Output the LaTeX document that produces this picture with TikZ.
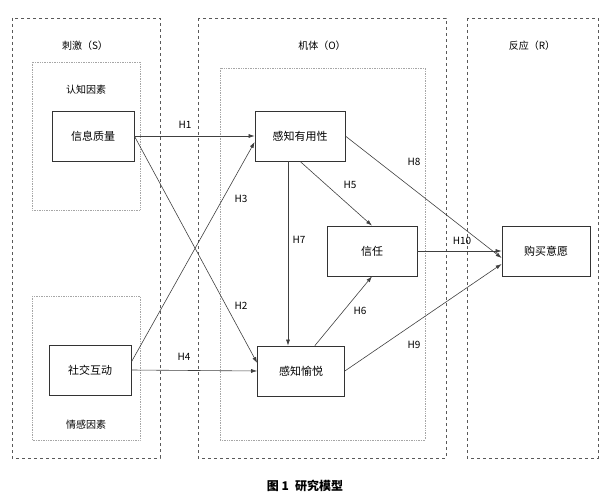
\documentclass[tikz,border=0pt]{standalone}
\usepackage{fontspec}
\setmainfont{Noto Sans CJK SC}
\usetikzlibrary{arrows.meta}
\begin{document}
\begin{tikzpicture}[x=1pt,y=-1pt,
  outer/.style={draw=gray!70!black,dashed,line width=0.8pt},
  inner/.style={draw=gray!70,densely dotted,line width=0.7pt},
  box/.style={draw=black!80,line width=0.7pt,fill=white,minimum width=82pt,minimum height=50pt,font=\fontsize{11}{12}\selectfont},
  lab/.style={font=\fontsize{10}{11}\selectfont},
  arr/.style={-{Latex[length=6pt,width=4pt]},draw=black!75,line width=0.6pt}]
\useasboundingbox (0,0) rectangle (611,500);
\draw[outer] (12,18) rectangle (160,458);
\draw[outer] (198,18) rectangle (446,458);
\draw[outer] (467,18) rectangle (598,458);
\node[lab] (tS) at (85,46) {刺激（S）};
\node[lab] (tO) at (322,46) {机体（O）};
\node[lab] (tR) at (532,46) {反应（R）};
\draw[inner] (32,62) rectangle (140,210);
\draw[inner] (32,296) rectangle (140,440);
\draw[inner] (220,68) rectangle (425,440);
\node[lab] (c1) at (86,90) {认知因素};
\node[lab] (c2) at (86,425) {情感因素};
\node[box] (xx) at (93,136) {信息质量};
\node[box] (sj) at (90,370) {社交互动};
\node[box,minimum width=90pt] (yy) at (300,136) {感知有用性};
\node[box,minimum width=90pt] (xr) at (372,251) {信任};
\node[box,minimum width=87pt] (yy2) at (301,371) {感知愉悦};
\node[box,minimum width=88pt] (gm) at (546,251) {购买意愿};
\draw[arr] (xx.east) -- (yy.west);
\draw[arr] (xx.east) -- (yy2.west|-0,363);
\draw[arr] (sj.east|-0,362) -- (yy.west|-0,142);
\draw[arr] (sj.east) -- (yy2.west);
\draw[arr] (yy.south) -- (xr.north);
\draw[arr] (yy2.north east) ++(-30,0) -- (xr.south);
\draw[arr] (yy.south) ++(-12,0) -- (yy2.north-|288,0);
\draw[arr] (yy.east) -- (gm.west|-0,258);
\draw[arr] (yy2.east) -- (gm.west|-0,264);
\draw[arr] (xr.east) -- (gm.west);
\node[lab] (h1) at (185,125) {H1};
\node[lab] (h2) at (241,306) {H2};
\node[lab] (h3) at (241,199) {H3};
\node[lab] (h4) at (184,357) {H4};
\node[lab] (h5) at (350,185) {H5};
\node[lab] (h6) at (360,311) {H6};
\node[lab] (h7) at (299,240) {H7};
\node[lab] (h8) at (414,162) {H8};
\node[lab] (h9) at (414,345) {H9};
\node[lab] (h10) at (462,241) {H10};
\node[font=\bfseries\fontsize{12}{13}\selectfont] (cap) at (305,486) {图 1\enspace 研究模型};
\end{tikzpicture}
\end{document}
